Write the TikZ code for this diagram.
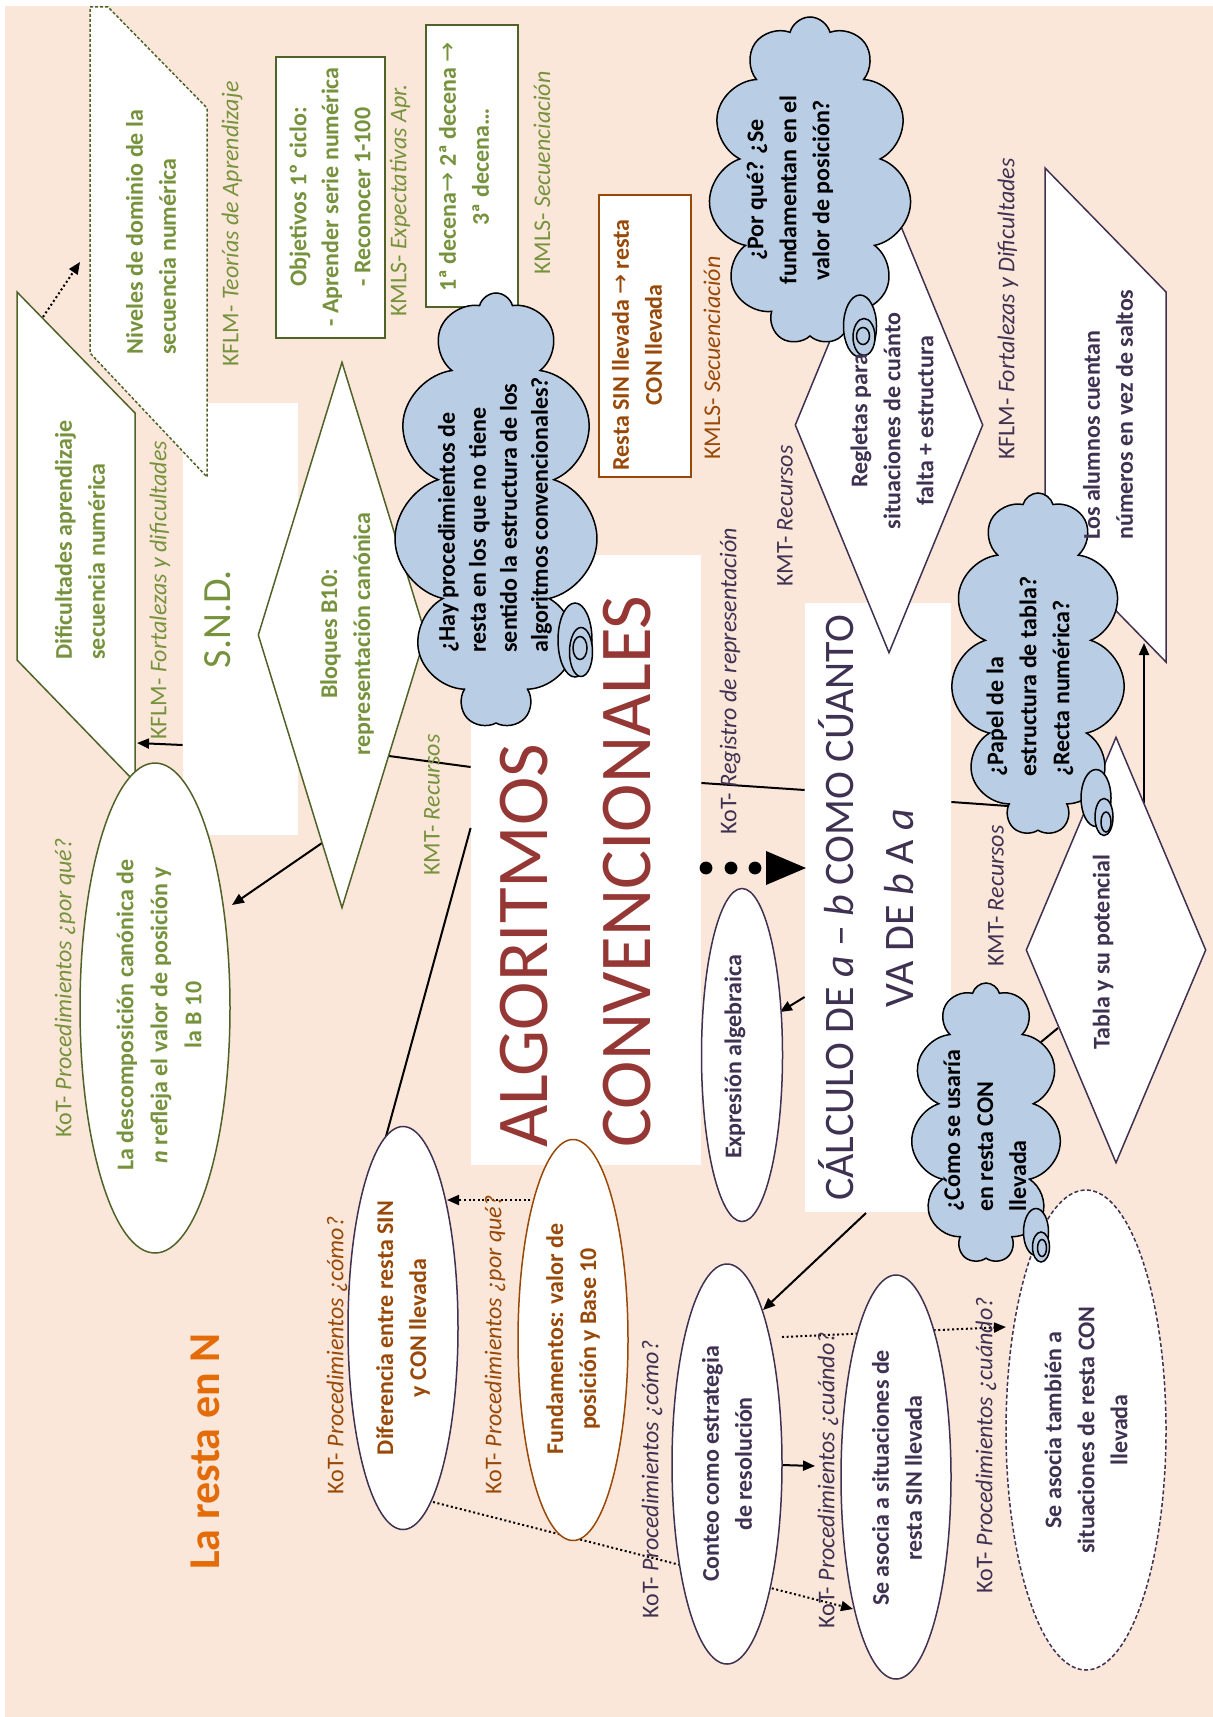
\documentclass[tikz,border=0pt]{standalone}
\usepackage{fontspec}
\setmainfont{Carlito}
\newfontfamily\symfont{DejaVu Sans}
\usetikzlibrary{shapes.geometric,shapes.symbols,arrows.meta}
\definecolor{bgpeach}{HTML}{FBE7D9}
\definecolor{grn}{HTML}{76923C}
\definecolor{olv}{HTML}{4F6228}
\definecolor{brn}{HTML}{984807}
\definecolor{prp}{HTML}{3F3151}
\definecolor{dred}{HTML}{953735}
\definecolor{orng}{HTML}{E36C09}
\definecolor{cblue}{HTML}{B9CDE5}
\begin{document}
\begin{tikzpicture}[x=0.5pt,y=-0.5pt,
  lbl/.style={rotate=90,anchor=west,inner sep=0pt,font=\fontsize{12}{15}\selectfont},
  txt/.style={rotate=90,inner sep=0pt,align=center,font=\fontsize{12}{16.5}\selectfont\bfseries},
  txtl/.style={txt,align=left,anchor=west},
  shp/.style={fill=white,line width=0.75pt},
  ell/.style={ellipse,shp,inner sep=0pt},
  dia/.style={diamond,shp,inner sep=0pt},
  wbox/.style={rectangle,fill=white,inner sep=0pt},
  cld/.style={cloud,cloud puffs=11,cloud ignores aspect,draw=black,fill=cblue,line width=0.75pt,inner sep=0pt},
  ctail/.style={draw=black,fill=cblue,line width=0.75pt},
  conn/.style={line width=1pt,black},
  arr/.style={conn,-{Triangle[length=6pt,width=5pt]}},
  dotarr/.style={conn,dash pattern=on 1pt off 1.3pt,-{Triangle[length=6pt,width=5pt]}}
]
\useasboundingbox (0,0) rectangle (1213,1717);
\fill[bgpeach] (5,6) rectangle (1213,1717);

% white boxes
\node[wbox,minimum width=57.5pt,minimum height=216pt] (snd) at (240.5,619) {};
\node[wbox,minimum width=115pt,minimum height=305pt] (alg) at (586,860) {};
\node[wbox,minimum width=73pt,minimum height=304.5pt] (calc) at (878,907.5) {};

% connector end points
\coordinate (p1) at (782,1337); \coordinate (p2) at (1006,1327);
\coordinate (p3) at (433,1502); \coordinate (p4) at (853,1609);
\coordinate (p5) at (535,1200); \coordinate (p6) at (447,1200);
\coordinate (p7) at (43,317);   \coordinate (p8) at (80,262);
\coordinate (difr) at (137,743);
\coordinate (blol) at (322,843); \coordinate (desc) at (232,905);
\coordinate (blor) at (389,756);
\coordinate (dift) at (385,1140);
\coordinate (papl) at (1008,806);
\coordinate (expr) at (780,1012);
\coordinate (calb) at (866,1213); \coordinate (cont) at (763,1310);
\coordinate (tabr) at (1144,803); \coordinate (alub) at (1144,643);
\coordinate (comr) at (1041,1042); \coordinate (tabl) at (1058,1028);
\coordinate (conr) at (782,1465); \coordinate (sinl) at (815,1466);

% dotted connectors
\draw[dotarr] (p1) -- (p2);
\draw[dotarr] (p3) -- (p4);
\draw[dotarr] (p5) -- (p6);
\draw[dotarr] (p7) -- (p8);

% solid connectors
\draw[arr] (snd.west |- 0,745) -- (difr);
\draw[arr] (blol) -- (desc);
\draw[conn] (blor) -- (alg.west |- 0,767);
\draw[conn] (alg.west |- 0,828) -- (dift);
\draw[conn] (alg.east |- 0,783) -- (calc.west |- 0,790);
\draw[conn] (calc.east |- 0,802) -- (papl);
\draw[arr] (calc.west |- 0,997) -- (expr);
\draw[arr] (calb) -- (cont);
\draw[arr] (tabr) -- (alub);
\draw[conn] (comr) -- (tabl);
\draw[arr] (conr) -- (sinl);

% dots and triangle
\coordinate (d1) at (706,868); \coordinate (d2) at (731,868); \coordinate (d3) at (755,868);
\fill (d1) circle (3.2pt); \fill (d2) circle (3.2pt); \fill (d3) circle (3.2pt);
\fill (766,851) -- (806,868) -- (766,885) -- cycle;

% shapes
\draw[shp,draw=olv,dash pattern=on 1.5pt off 1pt] (90,7) -- (108,7) -- (207,108) -- (207,477) -- (90,353) -- cycle;
\draw[shp,draw=olv] (17,292) -- (135,413) -- (135,782) -- (17,660) -- cycle;
\draw[shp,draw=olv] (276,57) rectangle (385,338);
\draw[shp,draw=olv] (426,25) rectangle (518,307);
\draw[shp,draw=brn] (599,195) rectangle (691,477);
\node[dia,draw=prp,minimum width=94pt,minimum height=228pt] (regd) at (889,425) {};
\draw[shp,draw=prp] (1045,168) -- (1166,292) -- (1166,662) -- (1045,538) -- cycle;
\node[dia,draw=prp,minimum width=90pt,minimum height=213pt] (tabd) at (1116,950) {};
\node[dia,draw=olv,minimum width=84pt,minimum height=273pt] (blod) at (342,635) {};

\node[ell,draw=prp,dash pattern=on 2pt off 1.2pt,minimum width=80pt,minimum height=240pt] (tame) at (1086,1430) {};
\node[ell,draw=prp,minimum width=55pt,minimum height=202pt] (sine) at (896,1477) {};
\node[ell,draw=prp,minimum width=55pt,minimum height=200pt] (cone) at (727,1464) {};
\node[ell,draw=brn,minimum width=55pt,minimum height=200.5pt] (fune) at (573,1340) {};
\node[ell,draw=prp,minimum width=55pt,minimum height=201.5pt] (dife) at (403,1328) {};
\node[ell,draw=olv,minimum width=75pt,minimum height=245pt] (dese) at (155,1008) {};
\node[ell,draw=prp,minimum width=40.5pt,minimum height=166.5pt] (expe) at (742,1055) {};

% clouds
\node[cld,minimum width=101.5pt,minimum height=164pt] (cpor) at (810,181) {};
\filldraw[ctail] (860,326) ellipse [x radius=16.5, y radius=31];
\filldraw[ctail] (864,337) ellipse [x radius=11, y radius=18.5];
\filldraw[ctail] (863,336) ellipse [x radius=6.5, y radius=8.5];

\node[cld,minimum width=87pt,minimum height=171pt] (cpap) at (1038,664) {};
\filldraw[ctail] (1096,798) ellipse [x radius=15, y radius=28.5];
\filldraw[ctail] (1104,817) ellipse [x radius=9, y radius=18.5];
\filldraw[ctail] (1106,822) ellipse [x radius=5, y radius=10];

\node[cld,minimum width=75pt,minimum height=140pt] (ccom) at (986,1123) {};
\filldraw[ctail] (1036,1232) ellipse [x radius=12.5, y radius=23.5];
\filldraw[ctail] (1041,1247) ellipse [x radius=8.5, y radius=15];
\filldraw[ctail] (1042,1248) ellipse [x radius=4.5, y radius=8.5];

\node[cld,minimum width=102pt,minimum height=217pt] (chay) at (496,510) {};
\filldraw[ctail] (575,640) ellipse [x radius=17, y radius=37];
\filldraw[ctail] (581,652) ellipse [x radius=11.5, y radius=24.5];
\filldraw[ctail] (580,648) ellipse [x radius=7, y radius=11.5];

% texts in shapes
\node[txtl,text=grn] (nivt) at (151,355) {Niveles de dominio de la\\secuencia numérica};
\node[txtl,text=grn] (dift) at (80,660) {Dificultades aprendizaje\\secuencia numérica};
\node[txt,text=grn,font=\fontsize{12}{16}\selectfont\bfseries] (objt) at (330,197) {Objetivos 1º ciclo:\\- Aprender serie numérica\\- Reconocer 1-100};
\node[txt,text=grn] (dect) at (464,167) {1ª decena{\symfont\mdseries →} 2ª decena {\symfont\mdseries →}\\3ª decena…};
\node[txt,text=brn] (rest) at (637,345) {Resta SIN llevada {\symfont\mdseries →} resta\\CON llevada};
\node[txt,text=black] (port) at (790,190) {¿Por qué? ¿Se\\fundamentan en el\\valor de posición?};
\node[txt,text=prp] (regt) at (892,421) {Regletas para\\situaciones de cuánto\\falta + estructura};
\node[txtl,text=prp] (alut) at (1108,540) {Los alumnos cuentan\\números en vez de saltos};
\node[txtl,text=black] (papt) at (1030,777) {¿Papel de la\\estructura de tabla?\\¿Recta numérica?};
\node[txtl,text=black,font=\fontsize{12}{15.5}\selectfont\bfseries] (hayt) at (495,653) {¿Hay procedimientos de\\resta en los que no tiene\\sentido la estructura de los\\algoritmos convencionales?};
\node[txt,text=grn,font=\fontsize{20}{24}\selectfont] (sndt) at (218,619) {S.N.D.};
\node[txt,text=grn] (blot) at (347,634) {Bloques B10:\\representación canónica};
\node[txt,text=grn,font=\fontsize{12}{17}\selectfont\bfseries] (dest) at (159,1015) {La descomposición canónica de\\\textit{n} refleja el valor de posición y\\la B 10};
\node[txtl,text=dred,font=\fontsize{36.5}{51.5}\selectfont] (algt) at (576,1148) {ALGORITMOS\\CONVENCIONALES};
\node[txt,text=prp,font=\fontsize{21}{30}\selectfont] (calt) at (866,908) {CÁLCULO DE \textit{a} – \textit{b} COMO CÚANTO\\VA DE \textit{b} A \textit{a}};
\node[txt,text=prp] (expt) at (735,1057) {Expresión algebraica};
\node[txt,text=prp] (tabt) at (1103,952) {Tabla y su potencial};
\node[txtl,text=black] (comt) at (985,1212) {¿Cómo se usaría\\en resta CON\\llevada};
\node[txt,text=prp] (tamt) at (1086,1430) {Se asocia también a\\situaciones de resta CON\\llevada};
\node[txt,text=prp] (sint) at (897,1478) {Se asocia a situaciones de\\resta SIN llevada};
\node[txt,text=prp] (cont) at (727,1464) {Conteo como estrategia\\de resolución};
\node[txt,text=brn] (funt) at (573,1339) {Fundamentos: valor de\\posición y Base 10};
\node[txt,text=brn] (dift2) at (403,1328) {Diferencia entre resta SIN\\y CON llevada};

% labels
\node[lbl,text=grn] (l1) at (232,367) {KFLM- \textit{Teorías de Aprendizaje}};
\node[lbl,text=grn] (l2) at (400,317) {KMLS- \textit{Expectativas Apr.}};
\node[lbl,text=grn] (l3) at (542,275) {KMLS- \textit{Secuenciación}};
\node[lbl,text=brn] (l4) at (712,460) {KMLS- \textit{Secuenciación}};
\node[lbl,text=prp] (l5) at (1008,460) {KFLM- \textit{Fortalezas y Dificultades}};
\node[lbl,text=prp] (l6) at (785,587) {KMT- \textit{Recursos}};
\node[lbl,text=prp] (l7) at (730,835) {KoT- \textit{Registro de representación}};
\node[lbl,text=prp] (l8) at (996,967) {KMT- \textit{Recursos}};
\node[lbl,text=grn] (l9) at (432,876) {KMT- \textit{Recursos}};
\node[lbl,text=grn] (l10) at (160,740) {KFLM- \textit{Fortalezas y dificultades}};
\node[lbl,text=grn] (l11) at (65,1138) {KoT- \textit{Procedimientos ¿por qué?}};
\node[lbl,text=brn] (l12) at (337,1495) {KoT- \textit{Procedimientos ¿cómo?}};
\node[lbl,text=brn] (l13) at (495,1495) {KoT- \textit{Procedimientos ¿por qué?}};
\node[lbl,text=prp] (l14) at (652,1619) {KoT- \textit{Procedimientos ¿cómo?}};
\node[lbl,text=prp] (l15) at (828,1629) {KoT- \textit{Procedimientos ¿cuándo?}};
\node[lbl,text=prp] (l16) at (986,1594) {KoT- \textit{Procedimientos ¿cuándo?}};
\node[lbl,text=orng,font=\fontsize{22}{26}\selectfont\bfseries] (title) at (205,1570) {La resta en N};
\end{tikzpicture}
\end{document}
